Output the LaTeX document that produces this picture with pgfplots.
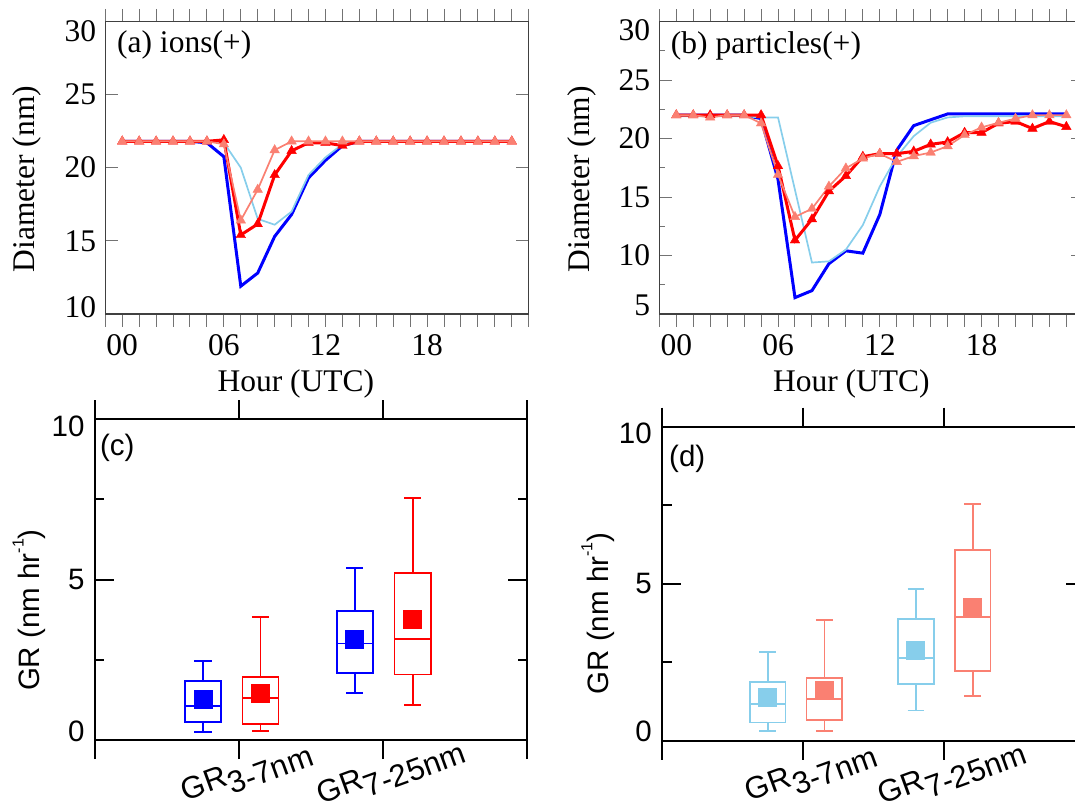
\documentclass[border=0pt]{standalone}
\usepackage{fontspec}
\setmainfont{Liberation Serif}
\newfontfamily\arial{Liberation Sans}
\usepackage{pgfplots}
\pgfplotsset{compat=1.18}
\usepgfplotslibrary{statistics}

\definecolor{skyb}{RGB}{135,206,235}
\definecolor{salm}{RGB}{250,128,114}
\newcommand\fa{\fontsize{31.5}{37}\selectfont}
\newcommand\fc{\arial\fontsize{29.5}{35}\selectfont}
\newcommand\fx{\arial\fontsize{31}{36}\selectfont}

\pgfplotsset{
  diam/.style={
    scale only axis, anchor=north west,
    xmin=-1, xmax=24,
    xtick={-1,...,24},
    xticklabels={,00,,,,,,06,,,,,,12,,,,,,18,,,,,,},
    xtick align=outside, ytick align=inside,
    major tick length=12.5pt, minor tick length=6pt,
    axis line style={black!75, line width=1.1pt},
    tick style={black!55, line width=1pt},
    tick label style={font=\fa, inner sep=0pt},
    xticklabel style={anchor=north, yshift=-7.5pt},
    yticklabel style={anchor=east, xshift=-9pt},
    xlabel={Hour (UTC)}, ylabel={Diameter (nm)},
    every axis x label/.style={at={(axis description cs:0.45,-0.266)}, anchor=base, font=\fa},
    every axis y label/.style={at={(axis description cs:-0.184,0.461)}, rotate=90, anchor=center, font=\fa},
  },
  thickl/.style={line width=3pt},
  thinl/.style={line width=1.7pt},
  tri/.style={mark=triangle*, mark size=5.5pt, mark options={solid, line width=0.4pt}},
  grbox/.style={
    scale only axis, anchor=north west,
    xmin=0, xmax=3, ymin=0, ymax=10,
    boxplot/draw direction=y,
    xtick={0,1,2,3},
    xticklabels={,GR\raisebox{-0.33em}{3-7nm},GR\raisebox{-0.33em}{7-25nm},},
    ytick={0,5,10},
    yticklabels={\raisebox{9pt}[\height][\depth]{0},5,\raisebox{-7pt}[\height][\depth]{10}},
    minor ytick={2.5,7.5},
    xtick align=outside, ytick align=inside,
    major tick length=19pt, minor tick length=9.5pt,
    axis line style={black, line width=2.2pt},
    tick style={black, line width=2pt},
    tick label style={font=\fc, inner sep=0pt},
    yticklabel style={anchor=east, xshift=-10pt},
    xticklabel style={font=\fx, xshift=8pt, yshift=-14pt, rotate=20, anchor=center},
    ylabel={GR (nm hr\raisebox{0.55em}{\fontsize{16}{16}\selectfont -1})},
    every axis y label/.style={at={(axis description cs:-0.151,0.405)}, rotate=90, anchor=center, font=\fc},
  },
  bx/.style={line width=1.7pt},
  mean/.style={only marks, mark=square*, mark size=9pt, mark options={line width=0pt}},
}

\begin{document}
\begin{tikzpicture}

% (a) ions
\begin{axis}[diam, at={(105.3pt,-21.3pt)}, width=423.4pt, height=292.7pt,
  ymin=10, ymax=30, ytick={10,15,20,25,30},
  yticklabels={\raisebox{7pt}[\height][\depth]{10},15,20,25,\raisebox{-10pt}[\height][\depth]{30}}]
\addplot[blue, thickl] coordinates {
  (0,21.8) (1,21.8) (2,21.8) (3,21.8) (4,21.8) (5,21.7) (6,20.75) (7,11.9)
  (8,12.8) (9,15.3) (10,16.8) (11,19.3) (12,20.5) (13,21.5) (14,21.8) (15,21.8)
  (16,21.8) (17,21.8) (18,21.8) (19,21.8) (20,21.8) (21,21.8) (22,21.8) (23,21.8)};
\addplot[skyb, thinl] coordinates {
  (0,21.8) (1,21.8) (2,21.8) (3,21.8) (4,21.8) (5,21.8) (6,21.7) (7,20.0)
  (8,16.5) (9,16.1) (10,17.0) (11,19.5) (12,20.7) (13,21.6) (14,21.8) (15,21.8)
  (16,21.8) (17,21.8) (18,21.8) (19,21.8) (20,21.8) (21,21.8) (22,21.8) (23,21.8)};
\addplot[red, thickl, tri] coordinates {
  (0,21.8) (1,21.8) (2,21.8) (3,21.8) (4,21.8) (5,21.8) (6,21.9) (7,15.4)
  (8,16.15) (9,19.5) (10,21.15) (11,21.7) (12,21.7) (13,21.5) (14,21.8) (15,21.8)
  (16,21.8) (17,21.8) (18,21.8) (19,21.8) (20,21.8) (21,21.8) (22,21.8) (23,21.8)};
\addplot[salm, thinl, tri] coordinates {
  (0,21.8) (1,21.8) (2,21.8) (3,21.8) (4,21.8) (5,21.8) (6,21.6) (7,16.4)
  (8,18.5) (9,21.2) (10,21.8) (11,21.8) (12,21.8) (13,21.8) (14,21.8) (15,21.8)
  (16,21.8) (17,21.8) (18,21.8) (19,21.8) (20,21.8) (21,21.8) (22,21.8) (23,21.8)};
\node[anchor=base west, font=\fa, inner sep=0pt] at (axis description cs:0.0276,0.892) {(a) ions(+)};
\end{axis}

% (b) particles
\begin{axis}[diam, at={(659.3pt,-21.5pt)}, width=424pt, height=292.5pt,
  ymin=5, ymax=30, ytick={5,10,15,20,25,30}, minor ytick={7.5,12.5,17.5,22.5,27.5},
  yticklabels={\raisebox{9pt}[\height][\depth]{5},10,15,20,25,\raisebox{-8.5pt}[\height][\depth]{30}},
  every axis y label/.style={at={(axis description cs:-0.183,0.461)}, rotate=90, anchor=center, font=\fa},
  every axis x label/.style={at={(axis description cs:0.453,-0.266)}, anchor=base, font=\fa}]
\addplot[blue, thickl] coordinates {
  (0,22.0) (1,22.0) (2,22.0) (3,22.0) (4,22.0) (5,21.7) (6,16.5) (7,6.4)
  (8,7.0) (9,9.3) (10,10.4) (11,10.2) (12,13.5) (13,19.0) (14,21.1) (15,21.6)
  (16,22.1) (17,22.1) (18,22.1) (19,22.1) (20,22.1) (21,22.1) (22,22.1) (23,22.1)};
\addplot[skyb, thinl] coordinates {
  (0,21.9) (1,21.9) (2,21.9) (3,21.9) (4,21.9) (5,21.8) (6,21.8) (7,15.6)
  (8,9.4) (9,9.5) (10,10.5) (11,12.6) (12,15.9) (13,18.45) (14,20.2) (15,21.35)
  (16,21.8) (17,21.9) (18,21.9) (19,21.9) (20,21.9) (21,21.9) (22,21.9) (23,21.9)};
\addplot[red, thickl, tri] coordinates {
  (0,22.0) (1,22.0) (2,22.0) (3,22.0) (4,22.0) (5,22.0) (6,17.65) (7,11.3)
  (8,13.1) (9,15.5) (10,16.8) (11,18.45) (12,18.7) (13,18.7) (14,18.9) (15,19.5)
  (16,19.7) (17,20.5) (18,20.5) (19,21.3) (20,21.45) (21,20.85) (22,21.45) (23,21.0)};
\addplot[salm, thinl, tri] coordinates {
  (0,22.0) (1,22.0) (2,21.8) (3,22.0) (4,22.0) (5,21.3) (6,16.9) (7,13.3)
  (8,14.0) (9,15.9) (10,17.45) (11,18.3) (12,18.7) (13,18.0) (14,18.5) (15,18.8)
  (16,19.35) (17,20.3) (18,20.95) (19,21.35) (20,21.7) (21,22.0) (22,22.0) (23,22.0)};
\node[anchor=base west, font=\fa, inner sep=0pt] at (axis description cs:0.027,0.892) {(b) particles(+)};
\end{axis}

% (c) ions GR
\begin{axis}[grbox, at={(94.7pt,-419.3pt)}, width=432.6pt, height=320.7pt]
\addplot[blue, bx, boxplot prepared={draw position=0.752, lower whisker=0.26,
  lower quartile=0.57, median=1.07, upper quartile=1.84, upper whisker=2.47,
  box extend=0.251, whisker extend=0.12}] coordinates {};
\addplot[red, bx, boxplot prepared={draw position=1.150, lower whisker=0.29,
  lower quartile=0.50, median=1.32, upper quartile=1.97, upper whisker=3.83,
  box extend=0.251, whisker extend=0.12}] coordinates {};
\addplot[blue, bx, boxplot prepared={draw position=1.804, lower whisker=1.47,
  lower quartile=2.10, median=3.01, upper quartile=4.03, upper whisker=5.36,
  box extend=0.251, whisker extend=0.12}] coordinates {};
\addplot[red, bx, boxplot prepared={draw position=2.205, lower whisker=1.09,
  lower quartile=2.04, median=3.16, upper quartile=5.20, upper whisker=7.55,
  box extend=0.251, whisker extend=0.12}] coordinates {};
\addplot[blue, mean] coordinates {(0.752,1.25) (1.804,3.14)};
\addplot[red, mean] coordinates {(1.150,1.46) (2.205,3.75)};
\node[anchor=base west, font=\fc, inner sep=0pt] at (axis description cs:0.012,0.886) {(c)};
\end{axis}

% (d) particles GR
\begin{axis}[grbox, at={(662pt,-426.7pt)}, width=423.3pt, height=314pt]
\addplot[skyb, bx, boxplot prepared={draw position=0.749, lower whisker=0.32,
  lower quartile=0.58, median=1.16, upper quartile=1.87, upper whisker=2.83,
  box extend=0.254, whisker extend=0.12}] coordinates {};
\addplot[salm, bx, boxplot prepared={draw position=1.151, lower whisker=0.31,
  lower quartile=0.65, median=1.32, upper quartile=1.99, upper whisker=3.84,
  box extend=0.254, whisker extend=0.12}] coordinates {};
\addplot[skyb, bx, boxplot prepared={draw position=1.800, lower whisker=0.96,
  lower quartile=1.80, median=2.64, upper quartile=3.87, upper whisker=4.84,
  box extend=0.254, whisker extend=0.12}] coordinates {};
\addplot[salm, bx, boxplot prepared={draw position=2.202, lower whisker=1.42,
  lower quartile=2.23, median=3.94, upper quartile=6.07, upper whisker=7.54,
  box extend=0.254, whisker extend=0.12}] coordinates {};
\addplot[skyb, mean] coordinates {(0.749,1.37) (1.800,2.87)};
\addplot[salm, mean] coordinates {(1.151,1.61) (2.202,4.24)};
\node[anchor=base west, font=\fc, inner sep=0pt] at (axis description cs:0.0165,0.874) {(d)};
\end{axis}

\pgfresetboundingbox
\path[use as bounding box] (0pt,0pt) rectangle (1075pt,-807pt);
\end{tikzpicture}
\end{document}
